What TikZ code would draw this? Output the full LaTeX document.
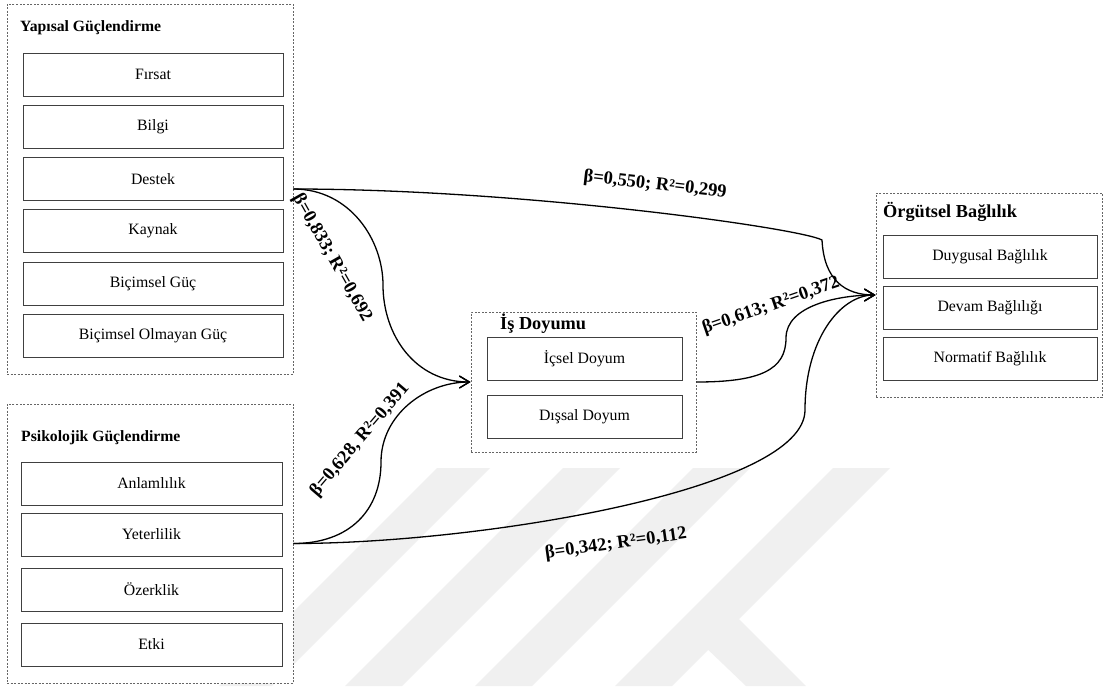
\documentclass[tikz,border=0pt]{standalone}
\usepackage{fontspec}
\setmainfont{Liberation Serif}
\usetikzlibrary{arrows.meta}
\definecolor{wm}{HTML}{F0F0F0}
\definecolor{dashc}{HTML}{666666}
\definecolor{boxc}{HTML}{404040}
\begin{document}
\begin{tikzpicture}[x=1pt,y=-1pt,
  grp/.style={draw=dashc,fill=white,dash pattern=on 2pt off 1.5pt,line width=0.8pt,inner sep=0pt},
  item/.style={draw=boxc,fill=white,line width=0.9pt,minimum height=43pt,inner sep=0pt,font=\fontsize{15.8}{18}\selectfont},
  ltitle/.style={anchor=west,inner sep=0pt,font=\bfseries\fontsize{15.7}{18}\selectfont},
  rtitle/.style={anchor=west,inner sep=0pt,font=\bfseries\fontsize{18.3}{21}\selectfont},
  elabel/.style={inner sep=0pt,font=\bfseries\fontsize{18.5}{21}\selectfont},
  conn/.style={line width=1.3pt,-{Straight Barb[length=10pt,width=12pt,line width=1.3pt]}},
]
\useasboundingbox[fill=white] (0,0) rectangle (1105,686);

% watermark stripes
\fill[wm] (437,468) -- (490,468) -- (272,686) -- (219,686) -- cycle;
\fill[wm] (563,468) -- (620,468) -- (402,686) -- (345,686) -- cycle;
\fill[wm] (693,468) -- (750,468) -- (532,686) -- (475,686) -- cycle;
\fill[wm] (833,468) -- (890,468) -- (672,686) -- (615,686) -- cycle;
\fill[wm] (700,642) -- (738,618) -- (806,686) -- (746,686) -- cycle;

% groups
\node[grp,minimum width=286pt,minimum height=370pt] (yap) at (150,189) {};
\node[grp,minimum width=286pt,minimum height=279pt] (psi) at (150,543.5) {};
\node[grp,minimum width=225pt,minimum height=140pt] (isd) at (583.5,382) {};
\node[grp,minimum width=226pt,minimum height=204pt] (org) at (989,295) {};

% titles
\node[ltitle] (yapt) at (20,28) {Yapısal Güçlendirme};
\node[ltitle] (psit) at (21,438) {Psikolojik Güçlendirme};
\node[rtitle] (isdt) at (500,324) {İş Doyumu};
\node[rtitle] (orgt) at (883,212) {Örgütsel Bağlılık};

% Yapısal items
\node[item,minimum width=260pt] (firsat) at (153,74.5) {Fırsat};
\node[item,minimum width=260pt] (bilgi) at (153,126.5) {Bilgi};
\node[item,minimum width=260pt] (destek) at (153,179) {Destek};
\node[item,minimum width=260pt] (kaynak) at (153,231) {Kaynak};
\node[item,minimum width=260pt] (bgu) at (153,283.5) {Biçimsel Güç};
\node[item,minimum width=260pt] (bogu) at (153,335.5) {Biçimsel Olmayan Güç};

% Psikolojik items
\node[item,minimum width=261pt] (anlam) at (151.5,483.5) {Anlamlılık};
\node[item,minimum width=261pt] (yeter) at (151.5,534.5) {Yeterlilik};
\node[item,minimum width=261pt] (ozerk) at (151.5,589.5) {Özerklik};
\node[item,minimum width=261pt] (etki) at (151.5,644.5) {Etki};

% İş Doyumu items
\node[item,minimum width=195pt] (icsel) at (584.5,359) {İçsel Doyum};
\node[item,minimum width=195pt] (dissal) at (584.5,417) {Dışsal Doyum};

% Örgütsel items
\node[item,minimum width=214pt] (duyg) at (990,257) {Duygusal Bağlılık};
\node[item,minimum width=214pt] (devam) at (990,308) {Devam Bağlılığı};
\node[item,minimum width=214pt] (norm) at (990,359) {Normatif Bağlılık};

% connectors
\draw[conn] (yap.east) .. controls (520,189) and (800,228) .. (822,240)
  .. controls (824,280) and (845,295) .. (org.west);
\draw[conn] (yap.east) .. controls (350,189) and (383,240) .. (383,285)
  .. controls (383,335) and (415,382) .. (isd.west);
\draw[conn] (psi.east) .. controls (350,543.5) and (381,510) .. (381,462)
  .. controls (381,415) and (425,382) .. (isd.west);
\draw[conn] (isd.east) .. controls (760,382) and (786,370) .. (786,338)
  .. controls (786,305) and (840,295) .. (org.west);
\draw[conn] (psi.east) .. controls (480,543.5) and (805,490) .. (805,410)
  .. controls (805,340) and (840,295) .. (org.west);

% labels
\node[elabel,rotate=-6.5] (l1) at (655,185) {β=0,550; R²=0,299};
\node[elabel,rotate=-60.5] (l2) at (332,258) {β=0,833; R²=0,692};
\node[elabel,rotate=49.5] (l3) at (360,440) {β=0,628, R²=0,391};
\node[elabel,rotate=19] (l4) at (771,306) {β=0,613; R²=0,372};
\node[elabel,rotate=8] (l5) at (616,544) {β=0,342; R²=0,112};
\end{tikzpicture}
\end{document}
